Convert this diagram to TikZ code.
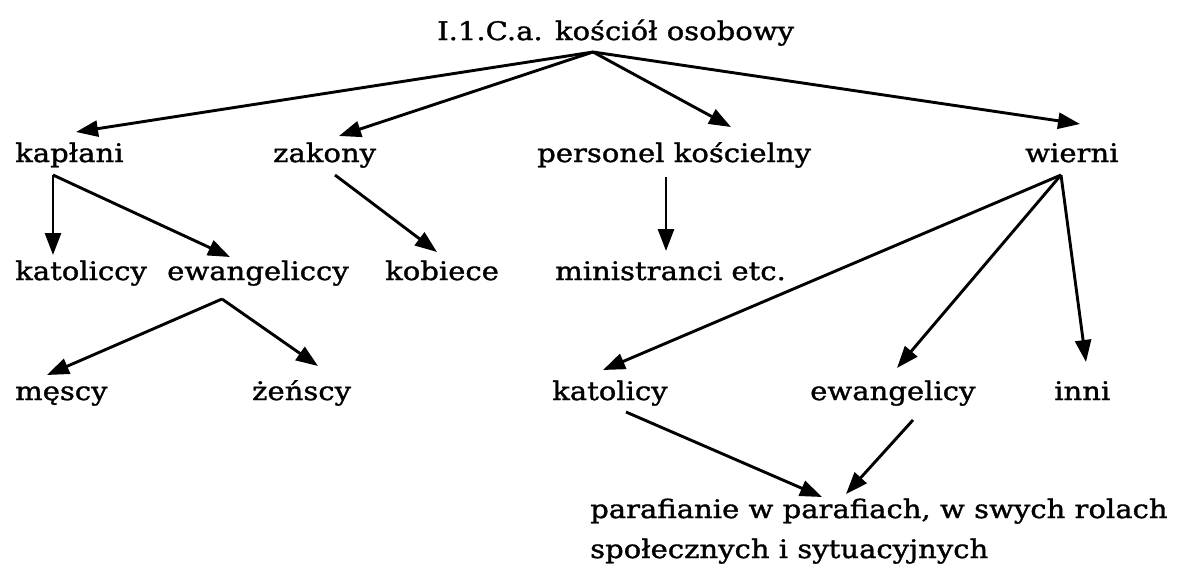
\documentclass[tikz,border=0pt]{standalone}
\usepackage{fontspec}
\setmainfont{DejaVu Serif}
\newfontfamily\lblfont{DejaVu Serif}[FakeStretch=1.14,FakeBold=1.3]
\usetikzlibrary{arrows.meta}
\begin{document}
\begin{tikzpicture}[x=1pt,y=-1pt,
  lbl/.style={anchor=base west,inner sep=0pt,font=\lblfont\fontsize{25.5}{40}\selectfont},
  arr/.style={line width=2.9pt,-{Triangle[length=22pt,width=16pt]}}]
\useasboundingbox[fill=white] (0,0) rectangle (1180,568);
% nodes
\node[lbl] (root) at (437,40) {I.1.C.a. kościół osobowy};
\node[lbl] (kaplani) at (15,162) {kapłani};
\node[lbl] (zakony) at (273,162) {zakony};
\node[lbl] (personel) at (537,162) {personel kościelny};
\node[lbl] (wierni) at (1025,162) {wierni};
\node[lbl] (katoliccy) at (15,280) {katoliccy};
\node[lbl] (ewangeliccy) at (167,280) {ewangeliccy};
\node[lbl] (kobiece) at (385,280) {kobiece};
\node[lbl] (ministranci) at (555,280) {ministranci etc.};
\node[lbl] (mescy) at (15,400) {męscy};
\node[lbl] (zenscy) at (252,400) {żeńscy};
\node[lbl] (katolicy) at (552,400) {katolicy};
\node[lbl] (ewangelicy) at (810,400) {ewangelicy};
\node[lbl] (inni) at (1054,400) {inni};
\node[lbl,align=left] (parafianie) at (590,558) {parafianie w parafiach, w swych rolach\\społecznych i sytuacyjnych};
% connectors
\draw[arr] ([shift={(156,12)}]root.base west) -- ([shift={(61,-30)}]kaplani.base west);
\draw[arr] ([shift={(156,12)}]root.base west) -- ([shift={(66,-26)}]zakony.base west);
\draw[arr] ([shift={(156,12)}]root.base west) -- ([shift={(194,-35)}]personel.base west);
\draw[arr] ([shift={(156,12)}]root.base west) -- ([shift={(55,-38)}]wierni.base west);
\draw[arr] ([shift={(38,13)}]kaplani.base west) -- ([shift={(38,-25)}]katoliccy.base west);
\draw[arr] ([shift={(38,13)}]kaplani.base west) -- ([shift={(63,-23)}]ewangeliccy.base west);
\draw[arr] ([shift={(62,13)}]zakony.base west) -- ([shift={(52,-28)}]kobiece.base west);
\draw[arr] ([shift={(129,15)}]personel.base west) -- ([shift={(111,-29)}]ministranci.base west);
\draw[arr] ([shift={(55,19)}]ewangeliccy.base west) -- ([shift={(32,-25)}]mescy.base west);
\draw[arr] ([shift={(55,19)}]ewangeliccy.base west) -- ([shift={(66,-34)}]zenscy.base west);
\draw[arr] ([shift={(36,13)}]wierni.base west) -- ([shift={(51,-30)}]katolicy.base west);
\draw[arr] ([shift={(36,13)}]wierni.base west) -- ([shift={(87,-32)}]ewangelicy.base west);
\draw[arr] ([shift={(36,13)}]wierni.base west) -- ([shift={(32,-38)}]inni.base west);
\draw[arr] ([shift={(74,12)}]katolicy.base west) -- ([shift={(232,-61)}]parafianie.base west);
\draw[arr] ([shift={(103,20)}]ewangelicy.base west) -- ([shift={(256,-64)}]parafianie.base west);
\end{tikzpicture}
\end{document}
